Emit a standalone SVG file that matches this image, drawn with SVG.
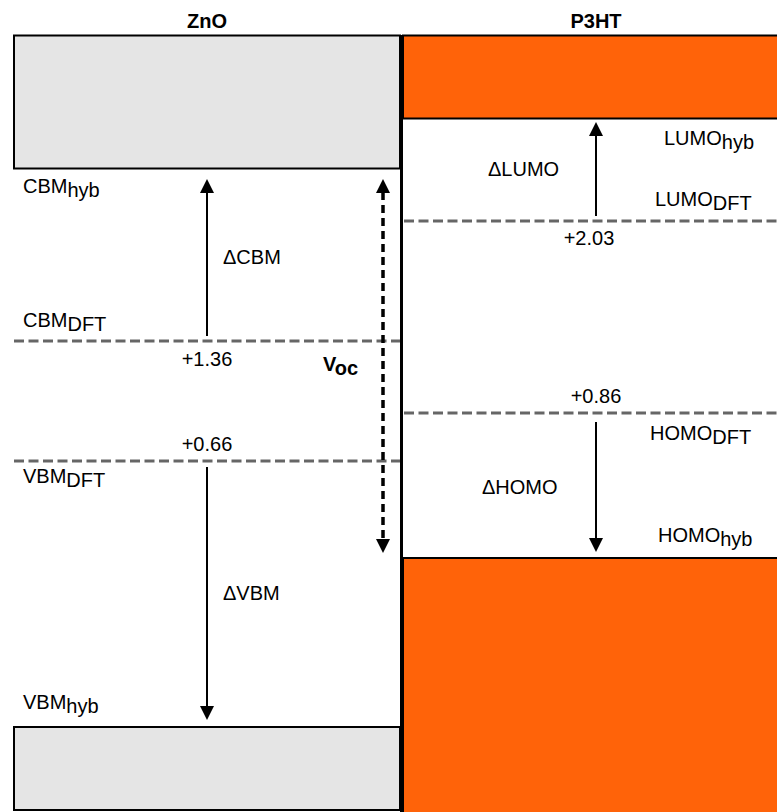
<svg xmlns="http://www.w3.org/2000/svg" width="777" height="812" viewBox="0 0 777 812">
<style>
text{font-family:"Liberation Sans",Arial,sans-serif;font-size:20px;fill:#000}
.title{font-weight:bold;font-size:20px;text-anchor:middle}
.mid{text-anchor:middle}
.zno{fill:#e5e5e5;stroke:#000;stroke-width:2}
.p3ht{fill:#ff6309;stroke:#000;stroke-width:2}
.lvl{stroke:#666;stroke-width:3;stroke-dasharray:10,4.5;fill:none}
.arr{stroke:#000;stroke-width:2;fill:none;marker-end:url(#ah)}
.voc{stroke:#000;stroke-width:3.5;stroke-dasharray:8,5;fill:none;marker-start:url(#ah2);marker-end:url(#ah2)}
</style>
<defs>
<marker id="ah" markerUnits="userSpaceOnUse" markerWidth="14" markerHeight="14" viewBox="0 0 14 14" refX="1" refY="7" orient="auto"><path d="M0,0 L14,7 L0,14 z" fill="#000"/></marker>
<marker id="ah2" markerUnits="userSpaceOnUse" markerWidth="14" markerHeight="14" viewBox="0 0 14 14" refX="1" refY="7" orient="auto-start-reverse"><path d="M0,0 L14,7 L0,14 z" fill="#000"/></marker>
</defs>
<rect width="777" height="812" fill="#fff"/>
<g id="title-zno"><text class="title" x="207" y="28">ZnO</text></g>
<g id="title-p3ht"><text class="title" x="596" y="28">P3HT</text></g>
<g id="zno-cb"><rect class="zno" x="14" y="35.5" width="386" height="133"/></g>
<g id="zno-vb"><rect class="zno" x="14" y="727" width="386" height="83"/></g>
<g id="p3ht-lumo"><rect class="p3ht" x="403" y="35.5" width="376" height="83"/></g>
<g id="p3ht-homo"><rect class="p3ht" x="403" y="558" width="376" height="256"/></g>
<g id="divider"><line x1="401.5" y1="35" x2="401.5" y2="812" stroke="#000" stroke-width="3"/></g>
<g id="levels">
<line class="lvl" x1="14" y1="341" x2="400" y2="341"/>
<line class="lvl" x1="14" y1="461" x2="400" y2="461"/>
<line class="lvl" x1="404" y1="221" x2="777" y2="221"/>
<line class="lvl" x1="404" y1="413" x2="777" y2="413"/>
</g>
<g id="connectors">
<line class="arr" x1="207" y1="336" x2="207" y2="192"/>
<line class="arr" x1="207" y1="467" x2="207" y2="707"/>
<line class="arr" x1="596" y1="216" x2="596" y2="135"/>
<line class="arr" x1="596" y1="422" x2="596" y2="539"/>
<line class="voc" x1="383" y1="192" x2="383" y2="540"/>
</g>
<g id="labels">
<text x="23" y="193">CBM<tspan dy="4">hyb</tspan></text>
<text x="223" y="264">ΔCBM</text>
<text x="23" y="327">CBM<tspan dy="4">DFT</tspan></text>
<text class="mid" x="207" y="366">+1.36</text>
<text x="323" y="371" font-weight="bold" font-size="21">V<tspan dy="4">oc</tspan></text>
<text class="mid" x="207" y="451">+0.66</text>
<text x="23" y="483">VBM<tspan dy="4">DFT</tspan></text>
<text x="223" y="600">ΔVBM</text>
<text x="23" y="709">VBM<tspan dy="4">hyb</tspan></text>
<text x="664" y="145">LUMO<tspan dy="4">hyb</tspan></text>
<text x="488" y="176">ΔLUMO</text>
<text x="655" y="206">LUMO<tspan dy="4">DFT</tspan></text>
<text class="mid" x="589" y="245">+2.03</text>
<text class="mid" x="596" y="403">+0.86</text>
<text x="650" y="440">HOMO<tspan dy="4">DFT</tspan></text>
<text x="482" y="494">ΔHOMO</text>
<text x="658" y="542">HOMO<tspan dy="4">hyb</tspan></text>
</g>
</svg>
